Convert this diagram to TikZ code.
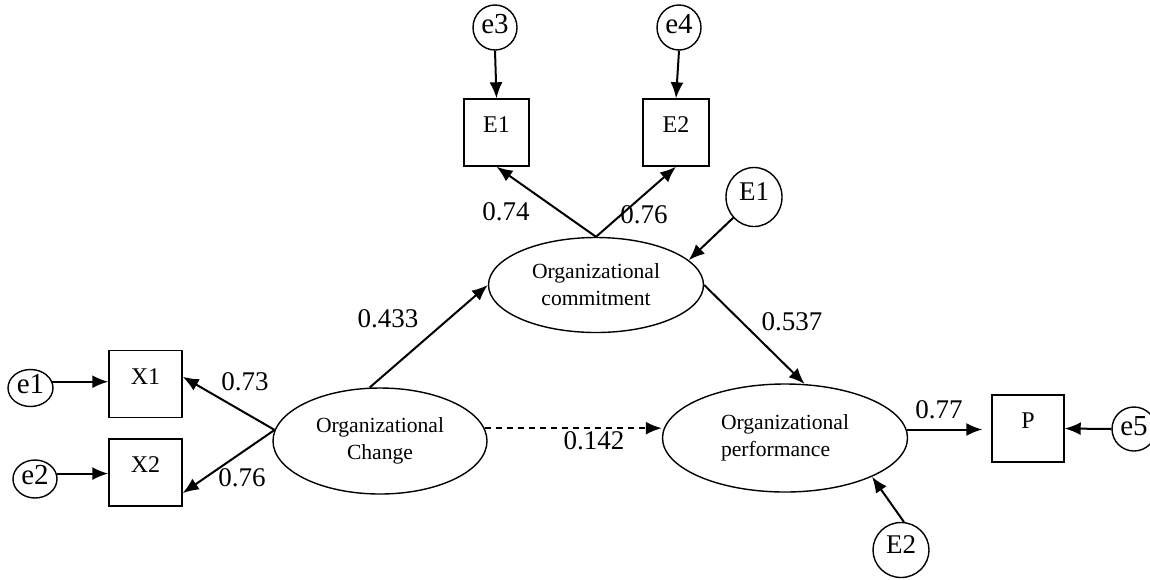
\documentclass[tikz,border=0pt]{standalone}
\usepackage{fontspec}
\setmainfont{Liberation Serif}
\usetikzlibrary{arrows.meta, positioning, shapes.geometric, calc}

\begin{document}
\begin{tikzpicture}[x=0.5pt, y=-0.5pt,
    box/.style={draw, line width=0.7pt, rectangle, inner sep=0pt, minimum width=36.5pt, minimum height=33.5pt, font=\fontsize{12}{14}\selectfont, text height=7.5pt, text depth=7.5pt},
    err/.style={draw, line width=0.7pt, ellipse, inner sep=0pt, minimum width=22pt, minimum height=19pt, font=\fontsize{14.5}{17}\selectfont, text height=8pt, text depth=2pt},
    res/.style={draw, line width=0.7pt, ellipse, inner sep=0pt, minimum width=28pt, minimum height=28.5pt, font=\fontsize{13.5}{15}\selectfont, text height=9pt, text depth=6pt},
    latent/.style={draw, line width=0.7pt, ellipse, inner sep=0pt, align=center, font=\fontsize{10.8}{13.5}\selectfont},
    num/.style={inner sep=0pt, font=\fontsize{13.5}{16}\selectfont},
    link/.style={line width=1pt, -{Latex[length=8pt, width=6.5pt]}},
  ]
    \useasboundingbox (0,0) rectangle (1150,579);

    % latent variables
    \node[latent, minimum width=107pt, minimum height=53pt] (change) at (380,441) {Organizational\\Change};
    \node[latent, minimum width=107.5pt, minimum height=47.5pt] (commit) at (596,285) {Organizational\\commitment};
    \node[latent, minimum width=122.5pt, minimum height=54pt, align=left] (perf) at (785,438) {Organizational\\performance};

    % observed variables
    \node[box] (x1) at (145.5,384) {X1};
    \node[box] (x2) at (145.5,472.5) {X2};
    \node[box, minimum width=32.5pt] (bE1) at (496.5,132.5) {E1};
    \node[box, minimum width=33pt] (bE2) at (676,132.5) {E2};
    \node[box, minimum width=36pt] (p) at (1028,428.5) {P};

    % error terms
    \node[err, minimum width=22.5pt, minimum height=18.5pt] (e1) at (30.5,388) {\raisebox{0.5pt}{e1}};
    \node[err] (e2) at (35,479) {\raisebox{0.5pt}{e2}};
    \node[err, minimum height=22.5pt] (e3) at (495,27.5) {e3};
    \node[err, minimum height=22.5pt] (e4) at (679,27.5) {e4};
    \node[err, minimum height=22pt] (e5) at (1134,429) {e5};
    \node[res, minimum height=29.5pt] (resE1) at (754,197) {E1};
    \node[res, minimum height=27.5pt] (resE2) at (901,550) {E2};

    % paths
    \draw[link] (e1.16) -- (e1.16 -| x1.west);
    \draw[link] (e2.14) -- (e2.14 -| x2.west);
    \draw[link] (e3.south) -- (bE1.north);
    \draw[link] (e4.south) -- (bE2.north);
    \draw[link] (e5.west) -- (p.east);
    \draw[link] (change.174) -- (x1.11);
    \draw[link] (change.174) -- (x2.-29);
    \draw[link] (change.101) -- (commit.west);
    \draw[link] (commit.north) -- (bE1.south);
    \draw[link] (commit.north) -- (bE2.south);
    \draw[link] (resE1.225) -- (commit.15);
    \draw[link] (commit.east) -- (perf.70);
    \draw[link] (resE2.84) -- (perf.-24);
    \draw[link, dash pattern=on 3pt off 2.5pt] (change.7) -- (change.7 -| perf.west);
    \draw[link, shorten >=4.5pt] (perf.4) -- (perf.4 -| p.west);

    % coefficients
    \node[num] (n073) at (245,382) {0.73};
    \node[num] (n076a) at (242,478) {0.76};
    \node[num] (n433) at (388,319) {0.433};
    \node[num] (n074) at (506,212) {0.74};
    \node[num] (n076b) at (644,215) {0.76};
    \node[num] (n537) at (792,322) {0.537};
    \node[num] (n142) at (594,441) {0.142};
    \node[num] (n077) at (939,410) {0.77};
  \end{tikzpicture}
\end{document}
